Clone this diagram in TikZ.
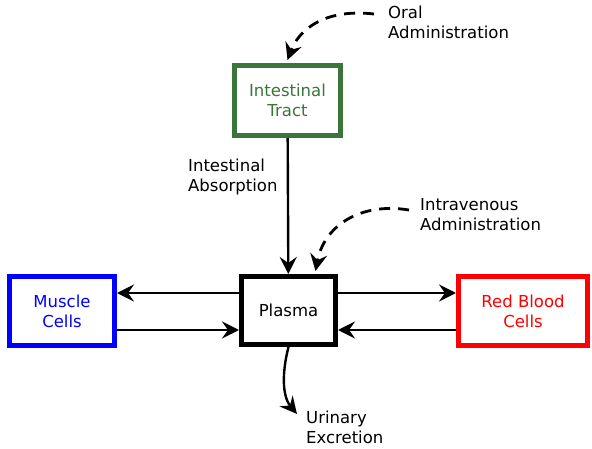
\documentclass[tikz,border=0pt]{standalone}
\usepackage{fontspec}
\setmainfont{DejaVu Sans}
\usetikzlibrary{arrows.meta}
\definecolor{tractgreen}{RGB}{58,118,58}
\definecolor{mblue}{RGB}{0,0,255}
\definecolor{rred}{RGB}{255,0,0}
\begin{document}
\begin{tikzpicture}[x=1pt,y=-1pt,
  every node/.style={font=\fontsize{16.5}{20}\selectfont},
  box/.style={draw,line width=5pt,align=center,inner sep=0pt},
  lbl/.style={align=left,inner sep=0pt,anchor=west},
  arr/.style={line width=2.4pt,-{Stealth[length=17pt,width=17pt,inset=6pt]}},
  darr/.style={arr,line width=2.8pt,dash pattern=on 11pt off 8pt}]
\useasboundingbox (0,0) rectangle (592,449);
\node[box,draw=tractgreen,text=tractgreen,minimum width=106pt,minimum height=70pt] (tract) at (287.5,100.5) {Intestinal\\Tract};
\node[box,minimum width=94pt,minimum height=68pt] (plasma) at (288.5,310.5) {Plasma};
\node[box,draw=mblue,text=mblue,minimum width=105pt,minimum height=69pt] (muscle) at (62,311) {Muscle\\Cells};
\node[box,draw=rred,text=rred,minimum width=129pt,minimum height=69pt] (rbc) at (523,311) {Red Blood\\Cells};
\node[lbl] (oral) at (388,22) {Oral\\Administration};
\node[lbl] (iv) at (420,215) {Intravenous\\Administration};
\node[lbl] (absorb) at (188,177) {Intestinal\\Absorption};
\node[lbl] (urine) at (306,427) {Urinary\\Excretion};
\coordinate (oralstart) at (374,14);
\coordinate (ivstart) at (409,210);
\coordinate (uend) at (297,414);
\draw[arr] (tract) -- (plasma);
\draw[arr] ([yshift=17.5pt]plasma.west) -- ([yshift=18pt]muscle.east);
\draw[arr] ([yshift=-19pt]muscle.east) -- ([yshift=-19.5pt]plasma.west);
\draw[arr] ([yshift=17.5pt]plasma.east) -- ([yshift=18pt]rbc.west);
\draw[arr] ([yshift=-19pt]rbc.west) -- ([yshift=-19.5pt]plasma.east);
\draw[darr] (oralstart) .. controls (322,8) and (298,32) .. ([yshift=3pt]tract.north);
\draw[darr] (ivstart) .. controls (360,202) and (324,226) .. ([xshift=27pt,yshift=3pt]plasma.north);
\draw[arr] (plasma.south) .. controls (282,372) and (282,396) .. (uend);
\end{tikzpicture}
\end{document}
